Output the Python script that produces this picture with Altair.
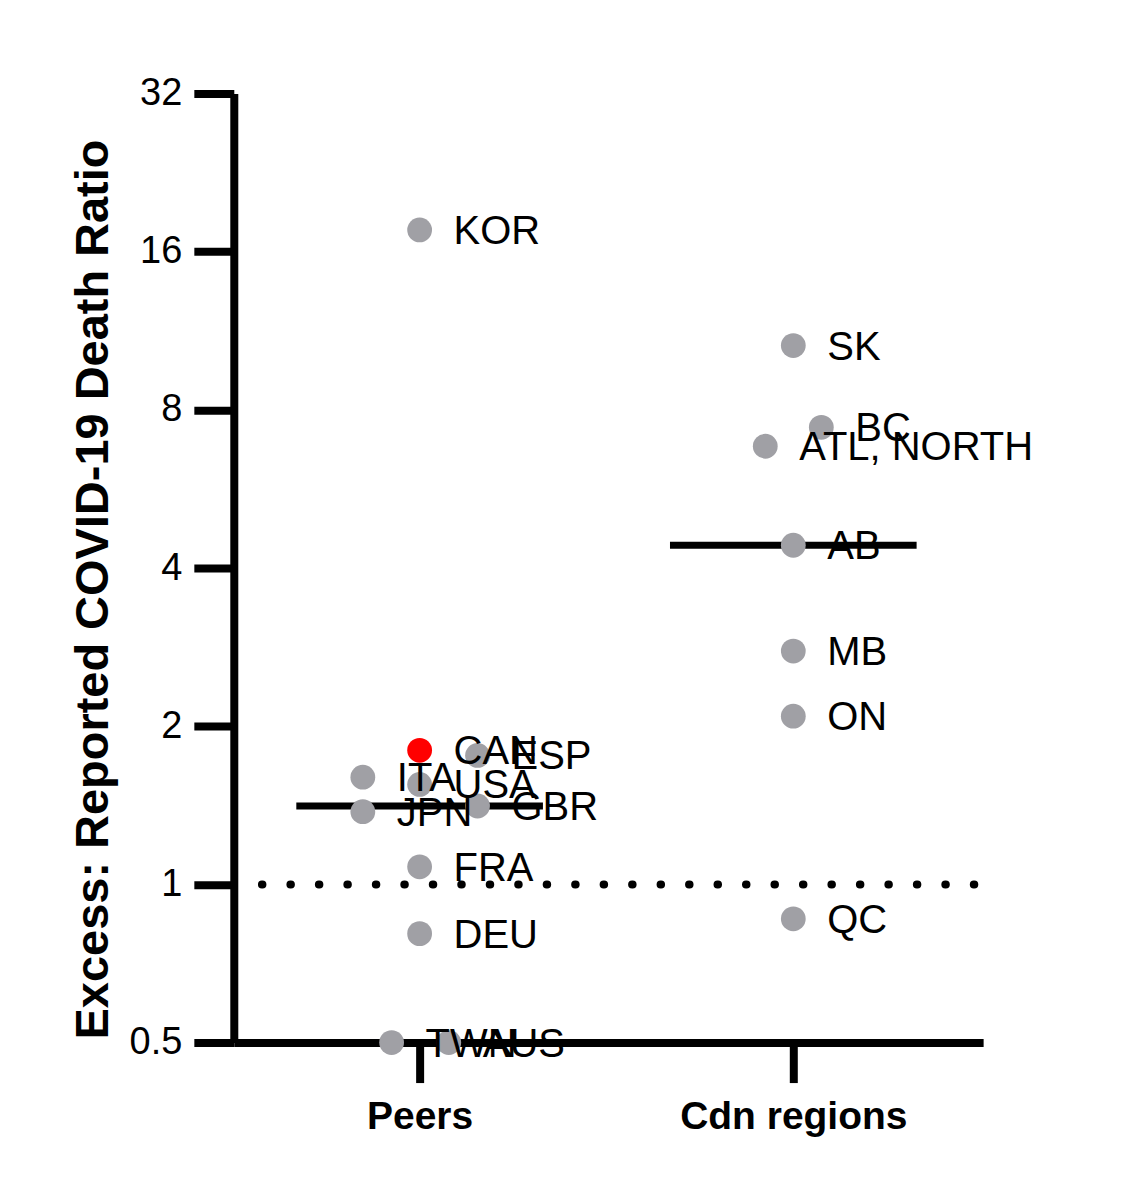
import altair as alt
import pandas as pd
import numpy as np

# ---- data ----
groups = ["Peers", "Cdn regions"]
group_pos = [1, 2]

peer_names = ["KOR", "CAN", "ESP", "ITA", "USA", "JPN", "GBR", "FRA", "DEU", "TWN", "AUS"]
peer_values = [17.6, 1.80, 1.76, 1.60, 1.55, 1.375, 1.41, 1.08, 0.806, 0.5, 0.5]
peer_jitter = [0, 0, 0.155, -0.152, 0, -0.152, 0.155, 0, 0, -0.075, 0.078]

cdn_names = ["SK", "BC", "ATL, NORTH", "AB", "MB", "ON", "QC"]
cdn_values = [10.6, 7.41, 6.82, 4.42, 2.78, 2.09, 0.86]
cdn_jitter = [0, 0.075, -0.075, 0, 0, 0, 0]

highlight = ["CAN"]

y_ticks = [0.5, 1, 2, 4, 8, 16, 32]
reference_value = 1.0

FONT = "Liberation Sans"

rows = []
for n, v, j in zip(peer_names, peer_values, peer_jitter):
    rows.append({"name": n, "value": v, "group": groups[0], "x": group_pos[0] + j,
                 "hl": "yes" if n in highlight else "no"})
for n, v, j in zip(cdn_names, cdn_values, cdn_jitter):
    rows.append({"name": n, "value": v, "group": groups[1], "x": group_pos[1] + j,
                 "hl": "yes" if n in highlight else "no"})
df = pd.DataFrame(rows)

half_width = 0.33
med = pd.DataFrame({
    "group": groups,
    "median": [float(np.median(peer_values)), float(np.median(cdn_values))],
    "x1": [p - half_width for p in group_pos],
    "x2": [p + half_width for p in group_pos],
})

ref = pd.DataFrame({"y": [reference_value], "x1": [0.578], "x2": [2.508]})

x_dom = [0.5027, 2.508]
label_expr = "datum.value == 1 ? 'Peers' : (datum.value == 2 ? 'Cdn regions' : '')"

xscale = alt.Scale(domain=x_dom, nice=False, zero=False)
yscale = alt.Scale(type="log", base=2, domain=[0.5, 32], nice=False)

x_axis = alt.Axis(values=group_pos, labelExpr=label_expr, title=None, grid=False,
                  domainWidth=8, domainColor="black", tickWidth=8, tickColor="black",
                  tickSize=40, labelFontSize=39, labelFontWeight="bold", labelFont=FONT,
                  labelColor="black", labelPadding=15, labelLimit=0)
y_axis = alt.Axis(values=y_ticks, format="~g", title="Excess: Reported COVID-19 Death Ratio",
                  grid=False, domainWidth=8, domainColor="black", tickWidth=8,
                  tickColor="black", tickSize=40, labelFontSize=38, labelFont=FONT,
                  labelColor="black", labelPadding=12, titleFontSize=47,
                  titleFontWeight="bold", titleFont=FONT, titleColor="black",
                  titleX=-140, titleY=496, titleAngle=270, titleAlign="center",
                  titleBaseline="middle", titleLimit=0)

base = alt.Chart(df)

medians = alt.Chart(med).mark_rule(color="black", strokeWidth=7).encode(
    x=alt.X("x1:Q", scale=xscale, axis=x_axis),
    x2="x2:Q",
    y=alt.Y("median:Q", scale=yscale, axis=y_axis),
)

dotted = alt.Chart(ref).mark_rule(color="black", strokeWidth=8, strokeCap="round",
                                  strokeDash=[0.5, 28]).encode(
    x=alt.X("x1:Q", scale=xscale),
    x2="x2:Q",
    y=alt.Y("y:Q", scale=yscale),
)

points = base.mark_circle(size=615, opacity=1).encode(
    x=alt.X("x:Q", scale=xscale),
    y=alt.Y("value:Q", scale=yscale),
    color=alt.Color("hl:N", scale=alt.Scale(domain=["no", "yes"], range=["#A0A0A5", "#FF0000"]),
                    legend=None),
)

labels = base.mark_text(align="left", baseline="middle", dx=34, dy=2, fontSize=40,
                        font=FONT, color="black").encode(
    x=alt.X("x:Q", scale=xscale),
    y=alt.Y("value:Q", scale=yscale),
    text="name:N",
)

chart = alt.layer(dotted, medians, points, labels).properties(
    width=750, height=950,
    background="white",
    autosize=alt.AutoSizeParams(type="none"),
    padding={"left": 226, "top": 85, "right": 140, "bottom": 150},
).configure_view(strokeWidth=0, stroke="transparent")

chart.save("out.html", embed_options={"renderer": "svg", "actions": False})
